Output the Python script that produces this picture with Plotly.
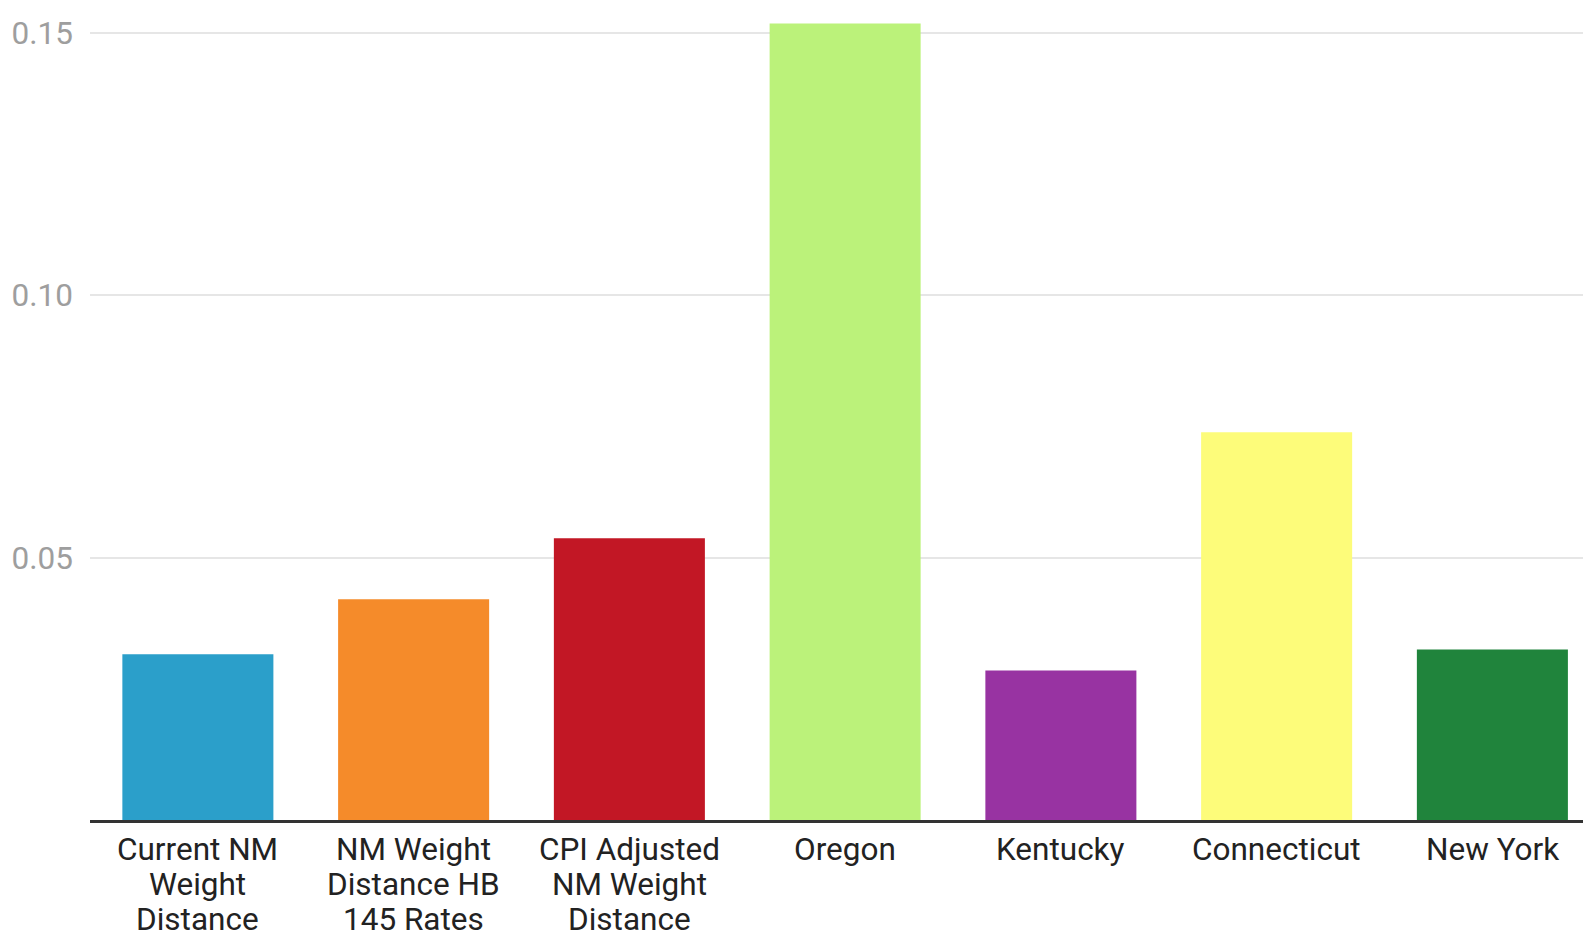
import plotly.graph_objects as go

categories = [
    "Current NM<br>Weight<br>Distance",
    "NM Weight<br>Distance HB<br>145 Rates",
    "CPI Adjusted<br>NM Weight<br>Distance",
    "Oregon",
    "Kentucky",
    "Connecticut",
    "New York",
]
values = [0.0316, 0.0421, 0.0537, 0.1518, 0.0285, 0.0739, 0.0325]
colors = ["#2b9fca", "#f58b2a", "#c21725", "#bbf27a", "#9833a2", "#fdfc7a", "#20843c"]
y_ticks = [0.05, 0.10, 0.15]
y_tick_labels = ["0.05", "0.10", "0.15"]

xpos = list(range(len(categories)))

fig = go.Figure(
    go.Bar(
        x=xpos,
        y=values,
        marker=dict(color=colors, line=dict(width=0)),
        width=0.7,
        hoverinfo="skip",
    )
)

# category labels, one annotation per line (tighter line spacing than plotly's default)
LINE_GAP = 35.2
FIRST_LINE = 29.5
annotations = []
for i, cat in enumerate(categories):
    for j, line in enumerate(cat.split("<br>")):
        annotations.append(
            dict(
                x=i,
                y=0,
                xref="x",
                yref="paper",
                text=line,
                showarrow=False,
                xanchor="center",
                yanchor="middle",
                yshift=-(FIRST_LINE + LINE_GAP * j),
                font=dict(family="Roboto", size=31.5, color="#222222"),
            )
        )

fig.update_layout(
    width=1583,
    height=940,
    margin=dict(l=90, r=0, t=0, b=120),
    paper_bgcolor="white",
    plot_bgcolor="white",
    showlegend=False,
    font=dict(family="Roboto", size=31.5, color="#222222"),
    annotations=annotations,
)

fig.update_xaxes(
    tickmode="array",
    tickvals=xpos,
    showticklabels=False,
    range=[-0.5, 6.42],
    showgrid=False,
    showline=True,
    linecolor="#333333",
    linewidth=2.5,
    ticks="",
    zeroline=False,
)

fig.update_yaxes(
    range=[0, 0.1563],
    tickmode="array",
    tickvals=y_ticks,
    ticktext=y_tick_labels,
    showgrid=True,
    gridcolor="#e6e6e6",
    gridwidth=2,
    showline=False,
    zeroline=False,
    ticks="",
    tickfont=dict(family="Roboto", size=31.5, color="#9e9e9e"),
    ticklabelstandoff=16,
)

fig.write_html(
    "out.html",
    config={"displayModeBar": False},
    post_script="document.body.style.margin='0';document.body.style.overflow='hidden';",
)
